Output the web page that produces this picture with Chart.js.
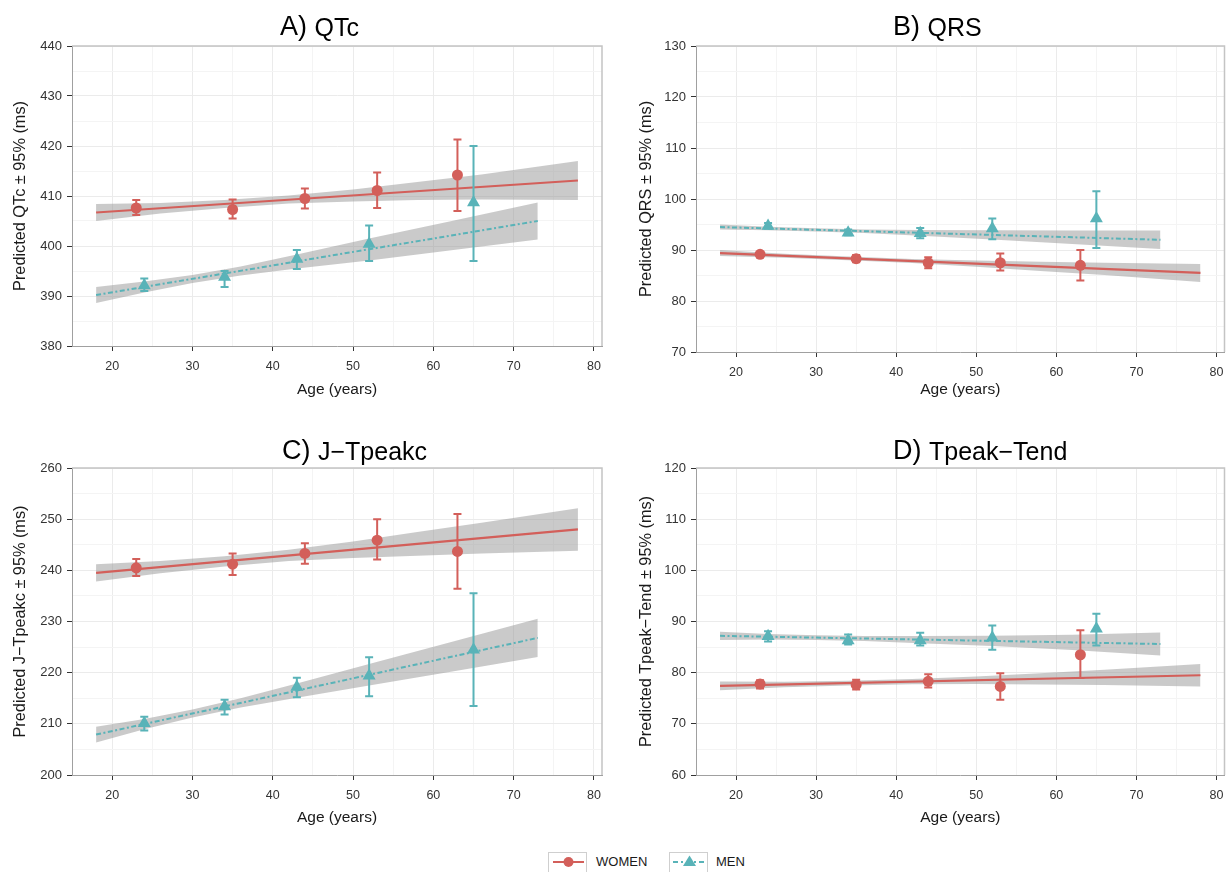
<!DOCTYPE html>
<html>
<head>
<meta charset="utf-8">
<script src="https://cdn.jsdelivr.net/npm/chart.js@4.4.1/dist/chart.umd.min.js"></script>
<style>
  html, body { margin: 0; padding: 0; background: #ffffff; }
  body { width: 1232px; height: 872px; overflow: hidden; position: relative; font-family: "Liberation Sans", Arial, Helvetica, sans-serif; }
  .pan { position: absolute; width: 616px; height: 420px; }
  canvas { display: block; }
  .lgbox { position: absolute; top: 852px; width: 39px; height: 24px; border: 1px solid #cfcfcf; box-sizing: border-box; background: #fff; }
  .lgtxt { position: absolute; top: 854px; font-size: 13px; line-height: 16px; color: #1a1a1a; }
</style>
</head>
<body>
<div class="pan" style="left:0;top:0"><canvas id="cA" width="616" height="420"></canvas></div>
<div class="pan" style="left:616px;top:0"><canvas id="cB" width="616" height="420"></canvas></div>
<div class="pan" style="left:0;top:420px"><canvas id="cC" width="616" height="420"></canvas></div>
<div class="pan" style="left:616px;top:420px"><canvas id="cD" width="616" height="420"></canvas></div>

<div class="lgbox" style="left:548px">
  <svg width="39" height="24"><line x1="4" y1="9" x2="35" y2="9" stroke="#D35F5A" stroke-width="2"/><circle cx="19.5" cy="9" r="5" fill="#D35F5A"/></svg>
</div>
<div class="lgtxt" style="left:596px">WOMEN</div>
<div class="lgbox" style="left:669px">
  <svg width="39" height="24"><line x1="3" y1="9" x2="36" y2="9" stroke="#59B3B8" stroke-width="2" stroke-dasharray="5,3,2,3"/><polygon points="19.5,2.5 26,13 13,13" fill="#59B3B8"/></svg>
</div>
<div class="lgtxt" style="left:716px">MEN</div>

<script>
// ---------------- DATA ----------------
const ageWomen = [23, 35, 44, 53, 63];
const ageMen   = [24, 34, 43, 52, 65];
const fitXWomen = [18, 78];
const fitXMen   = [18, 73];
const bandXWomen = [18, 26, 34, 42, 50, 58, 66, 78];
const bandXMen   = [18, 24, 30, 36, 43, 52, 62, 73];
const xTicks = [20, 25, 30, 35, 40, 45, 50, 55, 60, 65, 70, 75, 80];

// A) QTc
const qtcWomen   = [407.6, 407.3, 409.5, 411.1, 414.2];
const qtcWomenLo = [406.2, 405.5, 407.5, 407.6, 407.0];
const qtcWomenHi = [409.2, 409.3, 411.5, 414.7, 421.3];
const qtcMen     = [392.1, 393.8, 397.4, 400.4, 408.7];
const qtcMenLo   = [391.0, 391.8, 395.4, 397.0, 397.0];
const qtcMenHi   = [393.5, 395.0, 399.2, 404.1, 420.0];
const qtcFitWomen = [406.7, 413.1];
const qtcFitMen   = [390.2, 405.0];
const qtcBandWomenLo = [405.0, 406.5, 407.6, 408.5, 408.9, 409.2, 409.3, 409.2];
const qtcBandWomenHi = [408.4, 408.6, 409.2, 410.1, 411.3, 412.8, 414.3, 417.0];
const qtcBandMenLo   = [388.6, 390.7, 392.6, 394.1, 395.5, 397.1, 399.1, 401.3];
const qtcBandMenHi   = [391.8, 392.9, 394.2, 395.9, 398.3, 401.5, 404.9, 408.7];
const qtcTicks = [380, 385, 390, 395, 400, 405, 410, 415, 420, 425, 430, 435, 440];

// B) QRS
const qrsWomen   = [89.15, 88.3, 87.5, 87.5, 87.0];
const qrsWomenLo = [88.7, 87.6, 86.4, 86.0, 84.0];
const qrsWomenHi = [89.6, 89.0, 88.6, 89.3, 90.0];
const qrsMen     = [94.7, 93.4, 93.3, 94.2, 96.2];
const qrsMenLo   = [94.2, 92.9, 92.3, 92.1, 90.4];
const qrsMenHi   = [95.3, 94.0, 94.3, 96.2, 101.5];
const qrsFitWomen = [89.4, 85.5];
const qrsFitMen   = [94.5, 92.0];
const qrsBandWomenLo = [88.8, 88.48, 88.01, 87.44, 86.72, 85.9, 85.08, 83.75];
const qrsBandWomenHi = [90.0, 89.28, 88.71, 88.24, 87.92, 87.7, 87.48, 87.25];
const qrsBandMenLo   = [94.0, 93.88, 93.65, 93.33, 92.81, 92.05, 91.2, 90.2];
const qrsBandMenHi   = [95.0, 94.58, 94.25, 94.03, 93.91, 93.85, 93.8, 93.8];
const qrsTicks = [70, 75, 80, 85, 90, 95, 100, 105, 110, 115, 120, 125, 130];

// C) J-Tpeakc
const jtWomen   = [240.5, 241.2, 243.3, 245.9, 243.7];
const jtWomenLo = [238.9, 239.1, 241.3, 242.1, 236.4];
const jtWomenHi = [242.2, 243.3, 245.3, 250.0, 251.0];
const jtMen     = [210.1, 213.4, 217.2, 219.4, 224.5];
const jtMenLo   = [208.7, 211.8, 215.2, 215.4, 213.5];
const jtMenHi   = [211.4, 214.7, 219.0, 223.0, 235.5];
const jtFitWomen = [239.5, 248.0];
const jtFitMen   = [207.9, 226.8];
const jtBandWomenLo = [237.8, 239.43, 240.77, 241.8, 242.43, 242.87, 243.3, 243.85];
const jtBandWomenHi = [241.2, 241.83, 242.77, 244.0, 245.63, 247.47, 249.3, 252.15];
const jtBandMenLo   = [206.35, 208.96, 211.22, 213.18, 215.09, 217.48, 220.12, 223.05];
const jtBandMenHi   = [209.45, 210.96, 212.82, 214.98, 217.89, 221.68, 225.92, 230.55];
const jtTicks = [200, 205, 210, 215, 220, 225, 230, 235, 240, 245, 250, 255, 260];

// D) Tpeak-Tend
const tpWomen   = [77.8, 77.65, 78.3, 77.3, 83.5];
const tpWomenLo = [76.9, 76.7, 77.1, 74.7, 78.95];
const tpWomenHi = [78.5, 78.6, 79.7, 79.9, 88.3];
const tpMen     = [87.1, 86.3, 86.3, 86.8, 88.6];
const tpMenLo   = [86.1, 85.5, 85.3, 84.5, 85.3];
const tpMenHi   = [88.1, 87.45, 87.8, 89.2, 91.5];
const tpFitWomen = [77.4, 79.5];
const tpFitMen   = [87.2, 85.6];
const tpBandWomenLo = [76.55, 77.13, 77.51, 77.74, 77.77, 77.7, 77.58, 77.3];
const tpBandWomenHi = [78.25, 78.23, 78.41, 78.74, 79.27, 79.9, 80.58, 81.7];
const tpBandMenLo   = [86.4, 86.48, 86.4, 86.18, 85.77, 85.21, 84.42, 83.35];
const tpBandMenHi   = [88.0, 87.58, 87.3, 87.18, 87.17, 87.21, 87.42, 87.85];
const tpTicks = [60, 65, 70, 75, 80, 85, 90, 95, 100, 105, 110, 115, 120];

// ---------------- STYLE ----------------
const RED = '#D35F5A';
const TEAL = '#59B3B8';
const BAND = 'rgba(150,150,150,0.5)';
const FONT = '"Liberation Sans", Arial, Helvetica, sans-serif';

const pts = (xs, ys) => xs.map((x, i) => ({ x: x, y: ys[i] }));

const panelTitle = {
  id: 'panelTitle',
  afterDraw(chart, args, o) {
    const c = chart.ctx;
    c.save();
    c.fillStyle = '#000';
    c.textBaseline = 'middle';
    c.textAlign = 'left';
    c.font = '27px ' + FONT;
    c.fillText(o.label, o.x, o.y);
    const w = c.measureText(o.label + ' ').width;
    c.font = '25px ' + FONT;
    c.fillText(o.text, o.x + w, o.y + 1);
    c.restore();
  }
};

const frame = {
  id: 'frame',
  beforeDatasetsDraw(chart) {
    const a = chart.chartArea, c = chart.ctx;
    c.save();
    c.strokeStyle = '#c4c4c4';
    c.lineWidth = 1.5;
    c.beginPath();
    c.moveTo(a.left, a.top);
    c.lineTo(a.right, a.top);
    c.lineTo(a.right, a.bottom);
    c.stroke();
    c.restore();
  }
};

const errorBars = {
  id: 'errorBars',
  beforeDatasetDraw(chart, args) {
    const ds = chart.data.datasets[args.index];
    if (!ds.errLo) return;
    const xs = chart.scales.x, ys = chart.scales.y, c = chart.ctx;
    c.save();
    c.strokeStyle = ds.backgroundColor;
    c.lineWidth = 2;
    ds.data.forEach((p, i) => {
      const px = xs.getPixelForValue(p.x);
      const y1 = ys.getPixelForValue(ds.errLo[i]);
      const y2 = ys.getPixelForValue(ds.errHi[i]);
      c.beginPath();
      c.moveTo(px, y1); c.lineTo(px, y2);
      c.moveTo(px - 4, y1); c.lineTo(px + 4, y1);
      c.moveTo(px - 4, y2); c.lineTo(px + 4, y2);
      c.stroke();
    });
    c.restore();
  }
};

function makePanel(id, p) {
  const datasets = [
    { data: pts(bandXWomen, p.bwLo), borderWidth: 0, pointRadius: 0, fill: false, order: 3 },
    { data: pts(bandXWomen, p.bwHi), borderWidth: 0, pointRadius: 0, fill: '-1', backgroundColor: BAND, order: 3 },
    { data: pts(bandXMen, p.bmLo), borderWidth: 0, pointRadius: 0, fill: false, order: 3 },
    { data: pts(bandXMen, p.bmHi), borderWidth: 0, pointRadius: 0, fill: '-1', backgroundColor: BAND, order: 3 },
    { data: pts(fitXWomen, p.fw), borderColor: RED, borderWidth: 2.2, pointRadius: 0, fill: false, order: 2 },
    { data: pts(fitXMen, p.fm), borderColor: TEAL, borderWidth: 2, borderDash: [5, 2.5, 2, 2.5], pointRadius: 0, fill: false, order: 2 },
    { data: pts(ageWomen, p.w), errLo: p.wLo, errHi: p.wHi, showLine: false, pointStyle: 'circle', pointRadius: 5.5, backgroundColor: RED, borderColor: RED, borderWidth: 0, order: 1 },
    { data: pts(ageMen, p.m), errLo: p.mLo, errHi: p.mHi, showLine: false, pointStyle: 'triangle', pointRadius: 7.5, backgroundColor: TEAL, borderColor: TEAL, borderWidth: 0, order: 1 }
  ];
  const gridColor = (ctx) => (ctx.tick && ctx.tick.value % 10 === 0) ? '#ebebeb' : '#f4f4f4';
  const tickColor = (ctx) => (ctx.tick && ctx.tick.value % 10 === 0) ? '#333333' : 'rgba(0,0,0,0)';
  const lab = (v) => (v % 10 === 0 ? String(v) : '');
  new Chart(document.getElementById(id), {
    type: 'line',
    data: { datasets: datasets },
    options: {
      responsive: false,
      animation: false,
      events: [],
      layout: { padding: { top: p.top, right: p.right, bottom: p.bottom, left: 0 } },
      plugins: {
        legend: { display: false },
        tooltip: { enabled: false },
        title: { display: false },
        panelTitle: { label: p.label, text: p.name, x: p.tx, y: p.ty }
      },
      scales: {
        x: {
          type: 'linear', min: 15, max: 81,
          afterBuildTicks: (s) => { s.ticks = xTicks.map(v => ({ value: v })); },
          afterFit: (s) => { s.height = p.xh; },
          ticks: { callback: lab, color: '#333333', font: { family: FONT, size: 12.5 }, padding: 8, maxRotation: 0, autoSkip: false },
          grid: { color: gridColor, tickColor: tickColor, tickLength: 5, lineWidth: 1, drawTicks: true },
          border: { color: '#a0a0a0', width: 1 },
          title: { display: true, text: 'Age (years)', color: '#1a1a1a', font: { family: FONT, size: 15.5 }, padding: { top: 0, bottom: 0 } }
        },
        y: {
          type: 'linear', min: p.ticks[0], max: p.ticks[p.ticks.length - 1],
          afterBuildTicks: (s) => { s.ticks = p.ticks.map(v => ({ value: v })); },
          afterFit: (s) => { s.width = p.yw; },
          ticks: { callback: lab, color: '#333333', font: { family: FONT, size: 13 }, padding: 5, autoSkip: false },
          grid: { color: gridColor, tickColor: tickColor, tickLength: 5, lineWidth: 1, drawTicks: true },
          border: { color: '#a0a0a0', width: 1 },
          title: { display: true, text: p.ytitle, color: '#1a1a1a', font: { family: FONT, size: 16.3 }, padding: { top: p.ytp, bottom: 0 } }
        }
      }
    },
    plugins: [frame, errorBars, panelTitle]
  });
}

makePanel('cA', {
  label: 'A)', name: 'QTc', tx: 280, ty: 28,
  ytitle: 'Predicted QTc \u00B1 95% (ms)', ytp: 10.5,
  top: 46, right: 14, bottom: 21, xh: 53, yw: 72,
  ticks: qtcTicks,
  w: qtcWomen, wLo: qtcWomenLo, wHi: qtcWomenHi,
  m: qtcMen, mLo: qtcMenLo, mHi: qtcMenHi,
  fw: qtcFitWomen, fm: qtcFitMen,
  bwLo: qtcBandWomenLo, bwHi: qtcBandWomenHi, bmLo: qtcBandMenLo, bmHi: qtcBandMenHi
});
makePanel('cB', {
  label: 'B)', name: 'QRS', tx: 277, ty: 28,
  ytitle: 'Predicted QRS \u00B1 95% (ms)', ytp: 20.5,
  top: 46, right: 7, bottom: 21, xh: 47, yw: 80,
  ticks: qrsTicks,
  w: qrsWomen, wLo: qrsWomenLo, wHi: qrsWomenHi,
  m: qrsMen, mLo: qrsMenLo, mHi: qrsMenHi,
  fw: qrsFitWomen, fm: qrsFitMen,
  bwLo: qrsBandWomenLo, bwHi: qrsBandWomenHi, bmLo: qrsBandMenLo, bmHi: qrsBandMenHi
});
makePanel('cC', {
  label: 'C)', name: 'J\u2212Tpeakc', tx: 282, ty: 32,
  ytitle: 'Predicted J\u2212Tpeakc \u00B1 95% (ms)', ytp: 10.5,
  top: 48, right: 14, bottom: 13, xh: 52, yw: 72,
  ticks: jtTicks,
  w: jtWomen, wLo: jtWomenLo, wHi: jtWomenHi,
  m: jtMen, mLo: jtMenLo, mHi: jtMenHi,
  fw: jtFitWomen, fm: jtFitMen,
  bwLo: jtBandWomenLo, bwHi: jtBandWomenHi, bmLo: jtBandMenLo, bmHi: jtBandMenHi
});
makePanel('cD', {
  label: 'D)', name: 'Tpeak\u2212Tend', tx: 277, ty: 32,
  ytitle: 'Predicted Tpeak\u2212Tend \u00B1 95% (ms)', ytp: 20.5,
  top: 48, right: 7, bottom: 13, xh: 52, yw: 80,
  ticks: tpTicks,
  w: tpWomen, wLo: tpWomenLo, wHi: tpWomenHi,
  m: tpMen, mLo: tpMenLo, mHi: tpMenHi,
  fw: tpFitWomen, fm: tpFitMen,
  bwLo: tpBandWomenLo, bwHi: tpBandWomenHi, bmLo: tpBandMenLo, bmHi: tpBandMenHi
});
</script>
</body>
</html>
